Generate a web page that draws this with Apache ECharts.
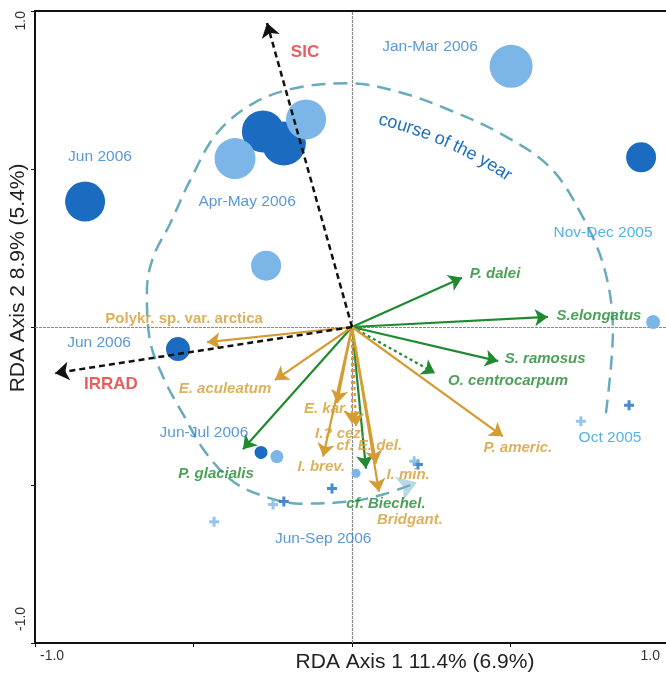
<!DOCTYPE html>
<html>
<head>
<meta charset="utf-8">
<title>RDA biplot</title>
<script src="https://cdn.jsdelivr.net/npm/echarts@6/dist/echarts.min.js"></script>
<style>
  html, body { margin: 0; padding: 0; background: #ffffff; }
  #chart { width: 666px; height: 676px; }
</style>
</head>
<body>
<div id="chart"></div>
<script>
// ---- axes ----
const axisTicks = [-1.0, -0.5, 0, 0.5, 1.0];
const axisTickLabels = ['-1.0', '', '', '', '1.0'];
const xAxisTitle = 'RDA Axis 1 11.4% (6.9%)';
const yAxisTitle = 'RDA Axis 2 8.9% (5.4%)';

// ---- environmental variables (biplot scores) ----
const envNames = ['SIC', 'IRRAD'];
const envX = [-0.268, -0.937];
const envY = [0.962, -0.146];

// ---- species (biplot scores) ----
const speciesNames = ['P. dalei', 'S.elongatus', 'S. ramosus', 'O. centrocarpum', 'P. glacialis', 'cf. Biechel.',
  'Polykr. sp. var. arctica', 'E. aculeatum', 'E. kar.', 'I.? cez.', 'cf. E. del.', 'I. brev.', 'I. min.', 'Bridgant.', 'P. americ.'];
const speciesX = [0.347, 0.618, 0.461, 0.262, -0.344, 0.044, -0.457, -0.243, -0.047, 0.000, 0.013, -0.091, 0.076, 0.085, 0.476];
const speciesY = [0.156, 0.032, -0.108, -0.146, -0.387, -0.448, -0.048, -0.168, -0.241, -0.305, -0.314, -0.410, -0.432, -0.521, -0.346];
const speciesGroup = ['dino', 'dino', 'dino', 'dino', 'dino', 'dino',
  'cyst', 'cyst', 'cyst', 'cyst', 'cyst', 'cyst', 'cyst', 'cyst', 'cyst'];
const speciesWeakFit = [false, false, false, true, false, false, false, false, false, true, true, false, false, false, false];

// ---- samples (site scores) ----
const sampleX = [-0.842, 0.912, -0.281, -0.215, -0.549, -0.287, 0.502, -0.145, -0.369, -0.271, 0.950, -0.237, 0.013];
const sampleY = [0.397, 0.537, 0.619, 0.581, -0.070, -0.397, 0.825, 0.657, 0.533, 0.194, 0.016, -0.410, -0.463];
const sampleAbundance = [4.0, 3.0, 4.2, 4.4, 2.4, 1.3, 4.3, 4.0, 4.1, 3.0, 1.4, 1.3, 0.9];
const sampleShade = ['dark', 'dark', 'dark', 'dark', 'dark', 'dark', 'light', 'light', 'light', 'light', 'light', 'light', 'light'];

// ---- samples without cysts (crosses) ----
const crossX = [0.874, 0.208, -0.063, -0.215, 0.722, 0.196, -0.249, -0.435];
const crossY = [-0.248, -0.435, -0.511, -0.552, -0.298, -0.425, -0.562, -0.616];
const crossShade = ['dark', 'dark', 'dark', 'dark', 'light', 'light', 'light', 'light'];

// ---- sampling periods ----
const periodNames = ['Jan-Mar 2006', 'Jun 2006', 'Apr-May 2006', 'Nov-Dec 2005', 'Jun 2006', 'Jun-Jul 2006', 'Jun-Sep 2006', 'Oct 2005'];
const periodX = [0.246, -0.795, -0.331, 0.792, -0.798, -0.467, -0.091, 0.814];
const periodY = [0.886, 0.540, 0.397, 0.298, -0.051, -0.333, -0.670, -0.349];

// ---- course of the year (Oct 2005 -> Sep 2006) ----
const yearCourseX = [0.801, 0.823, 0.798, 0.729, 0.625, 0.467, 0.309, 0.151, -0.006, -0.164, -0.306, -0.426, -0.511, -0.574, -0.628, -0.647, -0.637, -0.590, -0.533, -0.464, -0.375, -0.274, -0.164, -0.006, 0.098, 0.205];
const yearCourseY = [-0.273, -0.013, 0.178, 0.346, 0.505, 0.613, 0.686, 0.743, 0.771, 0.759, 0.711, 0.613, 0.463, 0.327, 0.219, 0.114, -0.044, -0.171, -0.276, -0.394, -0.489, -0.537, -0.559, -0.552, -0.530, -0.492];
const yearCourseText = 'course of the year';
const yearCourseTextArc = { center: [-0.205, -0.565], start: [0.085, 0.657] };

// ---- styles ----
const FONT = 'Liberation Sans, Arial, Helvetica, sans-serif';
const groupColor = { dino: '#1f8a2f', cyst: '#d59c33' };
const shadeColor = { dark: '#1b6cc0', light: '#7cb5e8' };
const envColor = '#111111';
const envLabelColor = '#e23535';
const periodColor = { 'Nov-Dec 2005': '#2a9de0', 'Oct 2005': '#2a9de0' };
const labelOffset = {
  'P. dalei': [33, -4], 'S.elongatus': [51, -1], 'S. ramosus': [47, -2], 'O. centrocarpum': [73, 8],
  'P. glacialis': [-27, 25], 'cf. Biechel.': [20, 35], 'Polykr. sp. var. arctica': [-23, -23],
  'E. aculeatum': [-50, 9], 'E. kar.': [-11, 6], 'I.? cez.': [-12, 10], 'cf. E. del.': [13, 20],
  'I. brev.': [-2, 10], 'I. min.': [32, 11], 'Bridgant.': [31, 28], 'P. americ.': [15, 12],
  'SIC': [38, 29], 'IRRAD': [56, 11]
};
const uprightLabels = ['Polykr. sp. var. arctica'];

const plusPath = 'path://M3.5,0h3v3.5h3.5v3h-3.5v3.5h-3v-3.5h-3.5v-3h3.5z';

function tickLabel(v) {
  const i = axisTicks.findIndex(t => Math.abs(t - v) < 1e-9);
  return i >= 0 ? axisTickLabels[i] : '';
}

const chart = echarts.init(document.getElementById('chart'), null, { renderer: 'canvas' });

// arrows from the origin
const speciesArrows = speciesNames.map((n, i) => ({
  name: n,
  coords: [[0, 0], [speciesX[i], speciesY[i]]],
  lineStyle: { color: groupColor[speciesGroup[i]], type: speciesWeakFit[i] ? [3, 3] : 'solid' }
}));
const envArrows = envNames.map((n, i) => ({ name: n, coords: [[0, 0], [envX[i], envY[i]]] }));

const speciesLabelData = speciesNames.map((n, i) => ({
  name: n,
  value: [speciesX[i], speciesY[i]],
  label: {
    color: groupColor[speciesGroup[i]],
    fontStyle: uprightLabels.includes(n) ? 'normal' : 'italic',
    offset: labelOffset[n]
  }
}));
const envLabelData = envNames.map((n, i) => ({
  name: n, value: [envX[i], envY[i]], label: { offset: labelOffset[n] }
}));

function samplesOf(shade) {
  const out = [];
  sampleX.forEach((x, i) => {
    if (sampleShade[i] === shade) out.push({ value: [x, sampleY[i]], symbolSize: sampleAbundance[i] * 10 });
  });
  return out;
}
function crossesOf(shade) {
  const out = [];
  crossX.forEach((x, i) => { if (crossShade[i] === shade) out.push([x, crossY[i]]); });
  return out;
}

const courseData = yearCourseX.map((x, i) => [x, yearCourseY[i]]);
const nLast = courseData.length - 1;

const hiddenLabelSeries = (name, data, label, z) => ({
  type: 'scatter', name, data, symbolSize: 0, silent: true, z,
  label: Object.assign({
    show: true, position: 'inside', formatter: '{b}', align: 'center', verticalAlign: 'middle',
    fontFamily: FONT
  }, label)
});

const option = {
  animation: false,
  backgroundColor: '#ffffff',
  grid: {
    left: 35, right: -3, top: 11, bottom: 33,
    show: true, borderColor: '#111', borderWidth: 2,
    outerBoundsMode: 'none', containLabel: false
  },
  xAxis: {
    type: 'value', min: -1, max: 1, interval: 0.5,
    axisLine: { show: true, onZero: false, lineStyle: { color: '#111', width: 2 } },
    axisTick: { show: true, length: 4, lineStyle: { color: '#111', width: 1 } },
    splitLine: { show: false },
    axisLabel: {
      show: true, formatter: tickLabel, margin: 6, color: '#333', fontSize: 14, fontFamily: FONT,
      padding: [0, 9, 0, 5],
      showMinLabel: true, showMaxLabel: true, alignMinLabel: 'left', alignMaxLabel: 'right'
    }
  },
  yAxis: {
    type: 'value', min: -1, max: 1, interval: 0.5,
    axisLine: { show: true, onZero: false, lineStyle: { color: '#111', width: 2 } },
    axisTick: { show: true, length: 4, lineStyle: { color: '#111', width: 1 } },
    splitLine: { show: false },
    axisLabel: {
      show: true, formatter: tickLabel, rotate: 90, margin: 7, color: '#333', fontSize: 14, fontFamily: FONT,
      padding: [0, 0, 0, 12],
      showMinLabel: true, showMaxLabel: true, alignMinLabel: 'left', alignMaxLabel: 'right'
    }
  },
  series: [
    // zero lines
    {
      type: 'line', data: [], silent: true, z: 1,
      markLine: {
        silent: true, symbol: 'none', label: { show: false },
        lineStyle: { color: '#8a8a8a', width: 1.2, type: [3, 1] },
        data: [{ xAxis: 0 }, { yAxis: 0 }]
      }
    },
    // course of the year
    {
      type: 'line', name: 'course', data: courseData, smooth: 0.35, showSymbol: false, silent: true, z: 2,
      lineStyle: { color: '#68abbc', width: 2.5, type: [14, 8] }
    },
    {
      type: 'lines', coordinateSystem: 'cartesian2d', silent: true, z: 3,
      symbol: ['none', 'arrow'], symbolSize: 19,
      lineStyle: { color: '#72b5c9', width: 0 },
      data: [{ coords: [courseData[nLast - 1], courseData[nLast]] }]
    },
    // samples
    {
      type: 'scatter', name: 'dark', data: samplesOf('dark'), symbol: 'circle', silent: true, z: 4,
      itemStyle: { color: shadeColor.dark, opacity: 1 }
    },
    {
      type: 'scatter', name: 'light', data: samplesOf('light'), symbol: 'circle', silent: true, z: 5,
      itemStyle: { color: shadeColor.light, opacity: 1 }
    },
    {
      type: 'scatter', name: 'no cysts dark', data: crossesOf('dark'), symbol: plusPath, symbolSize: 10, silent: true, z: 5,
      itemStyle: { color: shadeColor.dark }
    },
    {
      type: 'scatter', name: 'no cysts light', data: crossesOf('light'), symbol: plusPath, symbolSize: 10, silent: true, z: 5,
      itemStyle: { color: shadeColor.light }
    },
    // species arrows
    {
      type: 'lines', coordinateSystem: 'cartesian2d', silent: true, z: 6,
      symbol: ['none', 'arrow'], symbolSize: 13,
      lineStyle: { width: 2.2, opacity: 1 },
      data: speciesArrows
    },
    // environmental arrows
    {
      type: 'lines', coordinateSystem: 'cartesian2d', silent: true, z: 7,
      symbol: ['none', 'arrow'], symbolSize: 14,
      lineStyle: { color: envColor, width: 2.5, type: [6, 4], opacity: 1 },
      data: envArrows
    },
    // labels
    hiddenLabelSeries('species labels', speciesLabelData, { fontSize: 15, fontWeight: 'bold' }, 8),
    hiddenLabelSeries('env labels', envLabelData, { fontSize: 17, fontWeight: 'bold', color: envLabelColor }, 8),
    hiddenLabelSeries('periods', periodNames.map((n, i) => ({
      name: n, value: [periodX[i], periodY[i]],
      label: { color: periodColor[n] || '#2f80d0' }
    })), { fontSize: 15.5 }, 8)
  ]
};
chart.setOption(option);

// titles and curved course label
function drawAnnotations() {
  const elements = [
    {
      type: 'text', x: 415, y: 662, silent: true,
      style: { text: xAxisTitle, font: '21px ' + FONT, fill: '#222', align: 'center', verticalAlign: 'middle' }
    },
    {
      type: 'text', x: 18, y: 278, rotation: Math.PI / 2, silent: true,
      style: { text: yAxisTitle, font: '21px ' + FONT, fill: '#222', align: 'center', verticalAlign: 'middle' }
    }
  ];
  const c = chart.convertToPixel({ gridIndex: 0 }, yearCourseTextArc.center);
  const s = chart.convertToPixel({ gridIndex: 0 }, yearCourseTextArc.start);
  const R = Math.hypot(s[0] - c[0], s[1] - c[1]);
  let theta = Math.atan2(s[1] - c[1], s[0] - c[0]);
  const font = '18px ' + FONT;
  const ctx = document.createElement('canvas').getContext('2d');
  ctx.font = font;
  for (const ch of yearCourseText) {
    const w = ctx.measureText(ch).width;
    const mid = theta + (w / 2) / R;
    elements.push({
      type: 'text', silent: true,
      x: c[0] + R * Math.cos(mid), y: c[1] + R * Math.sin(mid),
      rotation: -(mid + Math.PI / 2),
      style: { text: ch, font, fill: '#1f6fc0', align: 'center', verticalAlign: 'middle' }
    });
    theta += w / R;
  }
  chart.setOption({ graphic: { elements } });
}
drawAnnotations();
</script>
</body>
</html>
